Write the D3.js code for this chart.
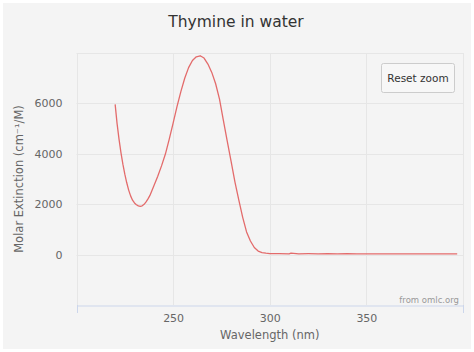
<!DOCTYPE html>
<html><head><meta charset="utf-8">
<script src="https://cdn.jsdelivr.net/npm/d3@7/dist/d3.min.js"></script>
<style>html,body{margin:0;padding:0;background:#fff}svg{display:block}</style>
</head><body>
<script>
const wavelengths = [220,221,222,223,224,225,226,227,228,229,230,231,232,233,234,235,236,237,238,240,242,244,246,248,250,252,254,256,258,260,262,264,266,268,270,272,274,276,278,280,282,284,286,288,290,292,294,296,298,300,305,310,311,315,320,325,330,335,340,345,350,355,360,365,370,375,380,385,390,397];
const extinction = [5960,5200,4580,4050,3590,3190,2850,2560,2330,2160,2050,1980,1935,1915,1935,1995,2090,2210,2350,2720,3100,3520,3990,4580,5220,5870,6470,7000,7420,7700,7850,7890,7800,7560,7230,6780,6170,5330,4500,3700,2880,2160,1480,900,540,280,140,80,55,40,35,30,60,32,35,30,34,30,33,30,32,30,31,30,32,30,31,30,30,28];
const xTicks = [250,300,350];
const yTicks = [0,2000,4000,6000];
const yGrid = [-2000,0,2000,4000,6000,8000];
const xGrid = [200,250,300,350,400];
const titleText = "Thymine in water";
const xTitle = "Wavelength (nm)";
const yTitle = "Molar Extinction (cm⁻¹/M)";

const W=474,H=352;
const font = "'DejaVu Sans', Verdana, sans-serif";
const svg = d3.select("body").append("svg").attr("width",W).attr("height",H);
svg.append("rect").attr("x",3).attr("y",3).attr("width",468).attr("height",346).attr("fill","#f4f4f4");

const x = d3.scaleLinear().domain([200,400]).range([76.5,463]);
const y = d3.scaleLinear().domain([-2000,8000]).range([305,53]);

// grid
svg.append("g").selectAll("line").data(yGrid.filter(d=>d>-2000)).join("line")
  .attr("x1",x(200)).attr("x2",x(400)).attr("y1",d=>Math.round(y(d))+0.5).attr("y2",d=>Math.round(y(d))+0.5)
  .attr("stroke","#e6e6e6").attr("stroke-width",1);
svg.append("g").selectAll("line").data(xGrid).join("line")
  .attr("x1",d=>Math.round(x(d))+0.5).attr("x2",d=>Math.round(x(d))+0.5).attr("y1",y(8000)).attr("y2",y(-2000))
  .attr("stroke","#e6e6e6").attr("stroke-width",1);

// x axis
const xAxis = d3.axisBottom(x).tickValues(xTicks).tickSize(0).tickPadding(9).tickFormat(d3.format("d"));
const gx = svg.append("g").attr("transform",`translate(0,${Math.round(y(-2000))+0.5})`).call(xAxis);
gx.select(".domain").attr("stroke","#ccd6eb");
gx.selectAll("text").attr("font-family",font).attr("font-size","11px").attr("fill","#666");
svg.append("g").selectAll("line").data([200,400]).join("line")
  .attr("x1",d=>Math.round(x(d))+0.5).attr("x2",d=>Math.round(x(d))+0.5)
  .attr("y1",y(-2000)).attr("y2",y(-2000)+8).attr("stroke","#ccd6eb");

// y axis
const yAxis = d3.axisLeft(y).tickValues(yTicks).tickSize(0).tickPadding(14).tickFormat(d3.format("d"));
const gy = svg.append("g").attr("transform",`translate(${x(200)},0)`).call(yAxis);
gy.select(".domain").remove();
gy.selectAll("text").attr("font-family",font).attr("font-size","11px").attr("fill","#666");

// line
const line = d3.line().x((d,i)=>x(wavelengths[i])).y(d=>y(d));
svg.append("path").datum(extinction).attr("d",line).attr("fill","none")
  .attr("stroke","#e36b6b").attr("stroke-width",1.3).attr("stroke-linejoin","round");

// titles
svg.append("text").attr("x",236).attr("y",27).attr("text-anchor","middle")
  .attr("font-family",font).attr("font-size","15.5px").attr("fill","#333").text(titleText);
svg.append("text").attr("x",x(300)).attr("y",339).attr("text-anchor","middle")
  .attr("font-family",font).attr("font-size","11.5px").attr("fill","#666").text(xTitle);
svg.append("text").attr("transform","translate(23,179) rotate(-90)").attr("text-anchor","middle")
  .attr("font-family",font).attr("font-size","11.5px").attr("fill","#666").text(yTitle);

// credits
svg.append("text").attr("x",459).attr("y",303).attr("text-anchor","end")
  .attr("font-family",font).attr("font-size","8.5px").attr("fill","#999").text("from omlc.org");

// reset zoom button
const btn = svg.append("g");
btn.append("rect").attr("x",381.5).attr("y",63.5).attr("width",73).attr("height",29).attr("rx",2)
  .attr("fill","#f7f7f7").attr("stroke","#cccccc");
btn.append("text").attr("x",418).attr("y",82).attr("text-anchor","middle")
  .attr("font-family",font).attr("font-size","10.5px").attr("fill","#333").text("Reset zoom");
</script>
</body></html>
